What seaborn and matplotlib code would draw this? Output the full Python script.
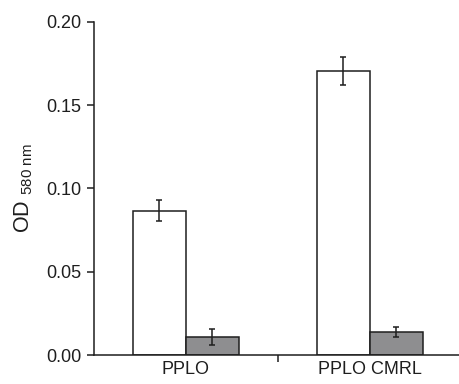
import pandas as pd
import seaborn as sns
import matplotlib.pyplot as plt
from matplotlib.ticker import FixedLocator

# values
categories = ["PPLO", "PPLO CMRL"]
conditions = ["A", "B"]
od_means = [[0.0867, 0.0108], [0.1705, 0.0138]]
od_errors = [[0.0065, 0.0048], [0.0085, 0.0032]]
y_ticks = [0.00, 0.05, 0.10, 0.15, 0.20]

rows = []
for cat, means, errs in zip(categories, od_means, od_errors):
    for cond, m, e in zip(conditions, means, errs):
        rows.append({"medio": cat, "cond": cond, "od": m, "err": e})
df = pd.DataFrame(rows)

sns.set_style("ticks")
plt.rcParams["font.family"] = ["Liberation Sans", "DejaVu Sans"]
plt.rcParams["mathtext.fontset"] = "custom"
plt.rcParams["mathtext.rm"] = "Liberation Sans"
plt.rcParams["mathtext.it"] = "Liberation Sans"

ink = "#1e1e1e"
fig = plt.figure(figsize=(4.6, 3.84), dpi=100)
ax = fig.add_axes([0.204, 0.0755, 0.80, 0.8675])

sns.barplot(data=df, x="medio", y="od", hue="cond", order=categories, hue_order=conditions,
            palette=["white", "#8e8e90"], width=0.576, errorbar=None, edgecolor=ink,
            linewidth=1.1, legend=False, ax=ax)

# error bars at the centre of every bar
for bar_container, cond in zip(ax.containers, conditions):
    sub = df[df["cond"] == cond].set_index("medio").loc[categories]
    xs = [p.get_x() + p.get_width() / 2 for p in bar_container]
    ax.errorbar(xs, sub["od"], yerr=sub["err"], fmt="none", ecolor=ink,
                elinewidth=1.1, capsize=2.2, capthick=1.1)

ax.set_xlim(-0.5, 1.5)
ax.set_ylim(0, 0.20)
ax.set_yticks(y_ticks)
ax.set_yticklabels([f"{t:.2f}" for t in y_ticks], fontsize=13, color=ink)
ax.tick_params(axis="y", direction="out", length=5, width=1.1, color=ink, pad=4)
ax.tick_params(axis="x", which="major", length=0, labelsize=13, labelcolor=ink, pad=4)
ax.xaxis.set_minor_locator(FixedLocator([0.5]))
ax.tick_params(axis="x", which="minor", direction="out", length=5, width=1.1, color=ink)
ax.set_xlabel("")
ax.set_ylabel(r"OD $_{\mathregular{580\ nm}}$", fontsize=15.5, color=ink, labelpad=8)

sns.despine(ax=ax)
for side in ["left", "bottom"]:
    ax.spines[side].set_linewidth(1.1)
    ax.spines[side].set_color(ink)

fig.savefig("out.png", dpi=100)
